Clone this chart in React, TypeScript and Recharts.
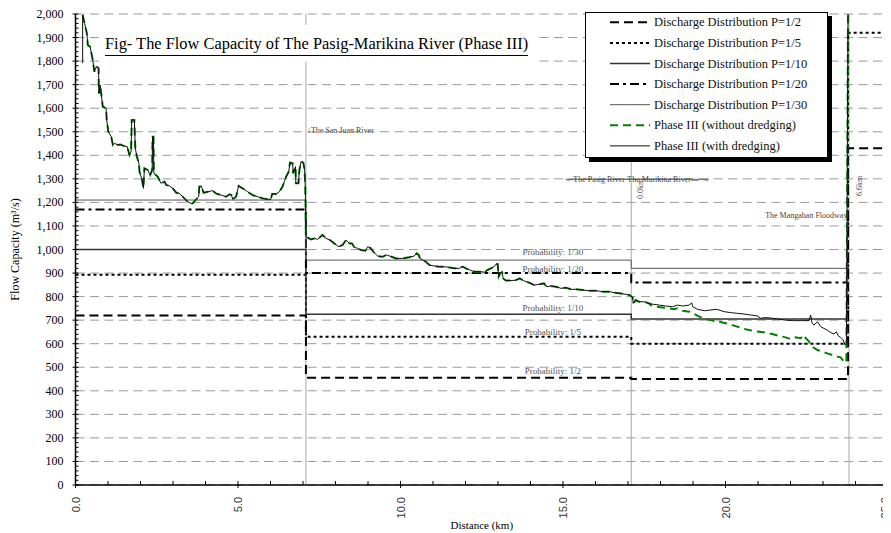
import { LineChart, Line, XAxis, YAxis, CartesianGrid, ReferenceLine, ReferenceDot, Legend } from 'recharts';

const serif = '"Liberation Serif", "Times New Roman", serif';
const sans = '"Liberation Sans", Arial, sans-serif';

// river sections (km): start of each reach, and end of the plot
const segmentStarts = [0, 7.09, 17.1, 23.77];
const xEnd = 25;

// discharge distribution per reach (m3/s)
const p2Levels = [720, 455, 450, 1430];
const p5Levels = [893, 630, 600, 1920];
const p10Levels = [1000, 725, 705];
const p20Levels = [1170, 900, 860];
const p30Levels = [1210, 955, 920];

// Phase III flow capacity, common part of both profiles
const sharedKm = [
  0.22, 0.28, 0.35, 0.38, 0.45, 0.53, 0.58, 0.64, 0.71, 0.72, 0.76, 0.84, 0.94, 0.96, 1.01, 1.1, 1.15, 1.2, 1.3,
  1.38, 1.48, 1.59, 1.66, 1.71, 1.73, 1.81, 1.84, 1.89, 1.95, 1.97, 2.05, 2.09, 2.12, 2.22, 2.3, 2.36, 2.37, 2.4,
  2.41, 2.53, 2.63, 2.74, 2.79, 2.89, 2.99, 3.1, 3.2, 3.35, 3.45, 3.59, 3.71, 3.79, 3.81, 3.87, 3.94, 4.07, 4.22,
  4.32, 4.48, 4.63, 4.74, 4.8, 4.84, 4.94, 5.02, 5.14, 5.3, 5.45, 5.61, 5.76, 5.91, 6.01, 6.05, 6.17, 6.27, 6.37,
  6.48, 6.56, 6.6, 6.68, 6.7, 6.77, 6.78, 6.86, 6.89, 6.94, 7.01, 7.05, 7.07, 7.09, 7.25, 7.35, 7.45, 7.6, 7.71,
  7.83, 7.96, 8.1, 8.22, 8.32, 8.43, 8.51, 8.58, 8.68, 8.78, 8.92, 8.99, 9.09, 9.16, 9.3, 9.45, 9.57, 9.73, 9.86,
  10.07, 10.27, 10.42, 10.5, 10.56, 10.6, 10.69, 10.78, 10.89, 11.04, 11.19, 11.35, 11.5, 11.65, 11.81, 11.91,
  12.01, 12.13, 12.27, 12.42, 12.58, 12.68, 12.78, 12.88, 12.94, 12.99, 13.02, 13.07, 13.12, 13.16, 13.24, 13.4,
  13.55, 13.67, 13.78, 13.96, 14.11, 14.26, 14.42, 14.49, 14.62, 14.78, 14.94, 15.09, 15.24, 15.4, 15.61, 15.81,
  16.01, 16.22, 16.42, 16.57, 16.73, 16.88, 17.04, 17.14, 17.16, 17.24, 17.34, 17.5, 17.65,
];
const sharedFlow = [
  1996, 1960, 1918, 1868, 1861, 1805, 1755, 1777, 1770, 1663, 1698, 1606, 1600, 1550, 1500, 1479, 1444, 1451, 1444,
  1446, 1440, 1437, 1401, 1415, 1550, 1550, 1430, 1394, 1366, 1330, 1295, 1260, 1345, 1338, 1316, 1338, 1479, 1479,
  1324, 1309, 1281, 1288, 1274, 1270, 1260, 1241, 1238, 1217, 1203, 1193, 1213, 1224, 1267, 1270, 1241, 1245, 1250,
  1238, 1231, 1224, 1234, 1231, 1213, 1224, 1270, 1260, 1245, 1231, 1224, 1217, 1213, 1213, 1236, 1236, 1245, 1267,
  1309, 1330, 1369, 1366, 1324, 1352, 1281, 1281, 1338, 1373, 1369, 1338, 1267, 1054, 1043, 1047, 1043, 1062, 1047,
  1040, 1026, 1012, 1019, 1040, 1026, 1026, 1009, 1005, 998, 995, 1012, 1005, 991, 972, 969, 977, 969, 962,
  962, 967, 972, 984, 977, 962, 955, 948, 934, 930, 927, 927, 924, 920, 920, 927,
  920, 913, 906, 906, 904, 913, 920, 927, 938, 938, 885, 899, 904, 877, 868, 868,
  870, 877, 868, 859, 849, 852, 856, 842, 845, 842, 835, 838, 831, 831, 828, 825,
  825, 821, 821, 817, 814, 811, 807, 797, 771, 785, 778, 778, 771,
];

// with dredging: short rise at the upstream end, then its own tail past 17.65 km
const withStartKm = [0.22];
const withStartFlow = [1792];
const withKm = [
  17.75, 17.96, 18.16, 18.37, 18.52, 18.68, 18.89, 18.96, 18.99, 19.14, 19.35, 19.55, 19.7, 19.8, 19.96, 20.16,
  20.36, 20.57, 20.77, 20.98, 21.08, 21.23, 21.44, 21.65, 21.85, 22.06, 22.37, 22.57, 22.62, 22.66, 22.72, 22.83,
  22.93, 23.03, 23.13, 23.24, 23.34, 23.41, 23.47, 23.54, 23.62, 23.68, 23.72, 23.77,
];
const withFlow = [
  768, 764, 760, 757, 764, 760, 764, 774, 757, 746, 740, 743, 746, 743, 736, 732,
  729, 726, 722, 718, 708, 711, 708, 704, 700, 698, 698, 698, 722, 690, 679, 693,
  672, 665, 658, 647, 641, 651, 633, 627, 616, 594, 601, 2000,
];

// without dredging tail
const withoutKm = [
  17.7, 17.86, 18.06, 18.27, 18.42, 18.52, 18.68, 18.89, 19.04, 19.19, 19.4, 19.6, 19.8, 20.01, 20.21, 20.42,
  20.62, 20.83, 21.03, 21.24, 21.44, 21.65, 21.85, 22.01, 22.16, 22.31, 22.42, 22.47, 22.57, 22.67, 22.83, 22.98,
  23.13, 23.29, 23.44, 23.54, 23.65, 23.72, 23.77,
];
const withoutFlow = [
  764, 757, 754, 750, 746, 750, 740, 736, 726, 715, 704, 698, 693, 687, 679, 670,
  661, 655, 651, 647, 641, 633, 627, 619, 627, 623, 637, 623, 609, 587, 573, 566,
  559, 552, 545, 542, 524, 520, 2000,
];

const yTicks = Array.from({ length: 101 }, (_, i) => i * 20);
const gridValues = Array.from({ length: 21 }, (_, i) => i * 100);
const xTicks = Array.from({ length: 26 }, (_, i) => i);

const steps = (levels: number[]) => {
  const pts = levels.map((flow, i) => ({ km: segmentStarts[i], flow }));
  const end = levels.length < segmentStarts.length ? segmentStarts[levels.length] : xEnd;
  pts.push({ km: end, flow: levels[levels.length - 1] });
  return pts;
};
const zip = (km: number[], flow: number[]) => km.map((k, i) => ({ km: k, flow: flow[i] }));

const withData = [...zip(withStartKm, withStartFlow), ...zip(sharedKm, sharedFlow), ...zip(withKm, withFlow)];
const withoutData = [...zip(sharedKm, sharedFlow), ...zip(withoutKm, withoutFlow)];

const series = [
  { name: 'Discharge Distribution P=1/2', data: steps(p2Levels), type: 'stepAfter', color: '#000', width: 2, dash: '9 5' },
  { name: 'Discharge Distribution P=1/5', data: steps(p5Levels), type: 'stepAfter', color: '#000', width: 2, dash: '3 3' },
  { name: 'Discharge Distribution P=1/10', data: steps(p10Levels), type: 'stepAfter', color: '#333', width: 1.5, dash: undefined },
  { name: 'Discharge Distribution P=1/20', data: steps(p20Levels), type: 'stepAfter', color: '#000', width: 2, dash: '9 4 3 4' },
  { name: 'Discharge Distribution P=1/30', data: steps(p30Levels), type: 'stepAfter', color: '#555', width: 1, dash: undefined },
  { name: 'Phase III (without dredging)', data: withoutData, type: 'linear', color: '#008000', width: 2, dash: '8 5' },
  { name: 'Phase III (with dredging)', data: withData, type: 'linear', color: '#111', width: 1, dash: undefined },
];

function YTick({ x, y, payload }: any) {
  const v = payload.value;
  const major = v % 100 === 0;
  return (
    <g>
      <line x1={major ? x - 3 : x} x2={x + 3} y1={y} y2={y} stroke="#000" strokeWidth={1} />
      {major && (
        <text x={x - 12} y={y} textAnchor="end" dominantBaseline="central" fontSize={12} fontFamily={serif} fill="#000">
          {v.toLocaleString('en-US')}
        </text>
      )}
    </g>
  );
}

function XTick({ x, y, payload }: any) {
  const v = payload.value;
  const major = v % 5 === 0;
  const ty = y + 12;
  // the last label sits against the page edge; keep it inside
  const tx = v === xEnd ? x - 3 : x;
  return (
    <g>
      <line x1={x} x2={x} y1={y - 4} y2={major ? y + 3 : y} stroke="#000" strokeWidth={1} />
      {major && (
        <text x={tx} y={ty} transform={`rotate(-90 ${tx} ${ty})`} textAnchor="end" dominantBaseline="central" fontSize={11} fontFamily={sans} fill="#333">
          {v.toFixed(1)}
        </text>
      )}
    </g>
  );
}

function XTitle({ viewBox }: any) {
  if (!viewBox) return null;
  return (
    <text x={viewBox.x + viewBox.width / 2} y={viewBox.y + 44} textAnchor="middle" fontSize={11} fontFamily={serif} fill="#000">
      Distance (km)
    </text>
  );
}

function YTitle({ viewBox }: any) {
  if (!viewBox) return null;
  const x = viewBox.x + 7;
  const y = viewBox.y + viewBox.height / 2;
  return (
    <text x={x} y={y} transform={`rotate(-90 ${x} ${y})`} textAnchor="middle" dominantBaseline="central" fontSize={12} fontFamily={serif} fill="#000">
      Flow Capacity (m³/s)
    </text>
  );
}

function Note({ viewBox, note, anchor = 'middle', size = 9, fill = '#555', rotate = false, dx = 0, strike = false }: any) {
  if (!viewBox) return null;
  const x = viewBox.x + viewBox.width / 2 + dx;
  const y = viewBox.y + viewBox.height / 2;
  return (
    <text
      x={x}
      y={y}
      textAnchor={anchor}
      dominantBaseline="central"
      fontSize={size}
      fontFamily={serif}
      fill={fill}
      textDecoration={strike ? 'line-through' : undefined}
      transform={rotate ? `rotate(-90 ${x} ${y})` : undefined}
    >
      {note}
    </text>
  );
}

function LegendBox() {
  return (
    <div style={{ boxSizing: 'border-box', width: 243, height: 146, background: '#fff', border: '1px solid #000', boxShadow: '4px 4px 0 #000' }}>
      <svg width={241} height={144} style={{ display: 'block' }}>
        {series.map((s, i) => {
          const y = 9.3 + i * 20.6;
          return (
            <g key={s.name}>
              <line x1={24} x2={64} y1={y} y2={y} stroke={s.color} strokeWidth={s.width} strokeDasharray={s.dash} />
              <text x={68} y={y} dominantBaseline="central" fontSize={12.5} fontFamily={serif} fill="#111">
                {s.name}
              </text>
            </g>
          );
        })}
      </svg>
    </div>
  );
}

export default function App() {
  return (
    <div style={{ position: 'relative', width: 883, height: 525 }}>
      <LineChart width={883} height={525} margin={{ top: 6, right: 3, bottom: 8, left: 0 }}>
        <CartesianGrid horizontal vertical={false} horizontalValues={gridValues} stroke="#999" strokeDasharray="9 5.5" />
        <XAxis
          type="number"
          dataKey="km"
          domain={[0, 25]}
          ticks={xTicks}
          interval={0}
          tickSize={0}
          tickMargin={0}
          tickLine={false}
          tick={<XTick />}
          height={40}
          axisLine={{ stroke: '#000', strokeWidth: 1.5 }}
          label={<XTitle />}
        />
        <YAxis
          type="number"
          domain={[0, 2000]}
          ticks={yTicks}
          interval={0}
          tickSize={0}
          tickMargin={0}
          tickLine={false}
          tick={<YTick />}
          width={67.5}
          axisLine={{ stroke: '#000', strokeWidth: 1.5 }}
          label={<YTitle />}
        />
        <ReferenceLine x={segmentStarts[1]} stroke="#a8a8a8" strokeWidth={1} />
        <ReferenceLine x={segmentStarts[2]} stroke="#a8a8a8" strokeWidth={1} />
        <ReferenceLine x={23.8} stroke="#a8a8a8" strokeWidth={1} />
        <Legend layout="vertical" align="center" verticalAlign="middle" content={<LegendBox />} wrapperStyle={{ left: 577, top: 4, width: 248, height: 150 }} />
        {series.map((s) => (
          <Line
            key={s.name}
            name={s.name}
            data={s.data}
            dataKey="flow"
            type={s.type as any}
            stroke={s.color}
            strokeWidth={s.width}
            strokeDasharray={s.dash}
            dot={false}
            activeDot={false}
            isAnimationActive={false}
          />
        ))}
        <ReferenceDot x={7.09} y={1507} r={0} fill="none" stroke="none" label={<Note note="↓The San Juan River" anchor="start" size={8} dx={1} fill="#444" />} />
        <ReferenceDot x={17.28} y={1299} r={0} fill="none" stroke="none" label={<Note note="←The Pasig River-The Marikina River— →" size={8} fill="#444" strike />} />
        <ReferenceDot x={17.4} y={1257} r={0} fill="none" stroke="none" label={<Note note="0.0km" size={8} fill="#444" rotate />} />
        <ReferenceDot x={24.11} y={1270} r={0} fill="none" stroke="none" label={<Note note="6.6km" size={8} fill="#444" rotate />} />
        <ReferenceDot x={23.75} y={1146} r={0} fill="none" stroke="none" label={<Note note="The Mangahan Floodway" anchor="end" size={8} fill="#444" />} />
        <ReferenceDot x={23.72} y={1091} r={0} fill="none" stroke="none" label={<Note note="↓" size={7} fill="#666" />} />
        <ReferenceDot x={14.69} y={989} r={0} fill="none" stroke="none" label={<Note note="Probability: 1/30" />} />
        <ReferenceDot x={14.69} y={917} r={0} fill="none" stroke="none" label={<Note note="Probability: 1/20" />} />
        <ReferenceDot x={14.69} y={752} r={0} fill="none" stroke="none" label={<Note note="Probability: 1/10" />} />
        <ReferenceDot x={14.69} y={650} r={0} fill="none" stroke="none" label={<Note note="Probability: 1/5" />} />
        <ReferenceDot x={14.69} y={484} r={0} fill="none" stroke="none" label={<Note note="Probability: 1/2" />} />
      </LineChart>
      <div style={{ position: 'absolute', left: 92, top: 17, width: 436, height: 37, background: '#fff' }}>
        <span
          style={{
            position: 'absolute',
            left: 5,
            top: 10,
            fontFamily: serif,
            fontSize: 16.4,
            lineHeight: '17px',
            borderBottom: '1.5px solid #000',
            paddingBottom: 2.5,
            whiteSpace: 'nowrap',
            color: '#000',
          }}
        >
          Fig- The Flow Capacity of The Pasig-Marikina River (Phase III)
        </span>
      </div>
    </div>
  );
}
